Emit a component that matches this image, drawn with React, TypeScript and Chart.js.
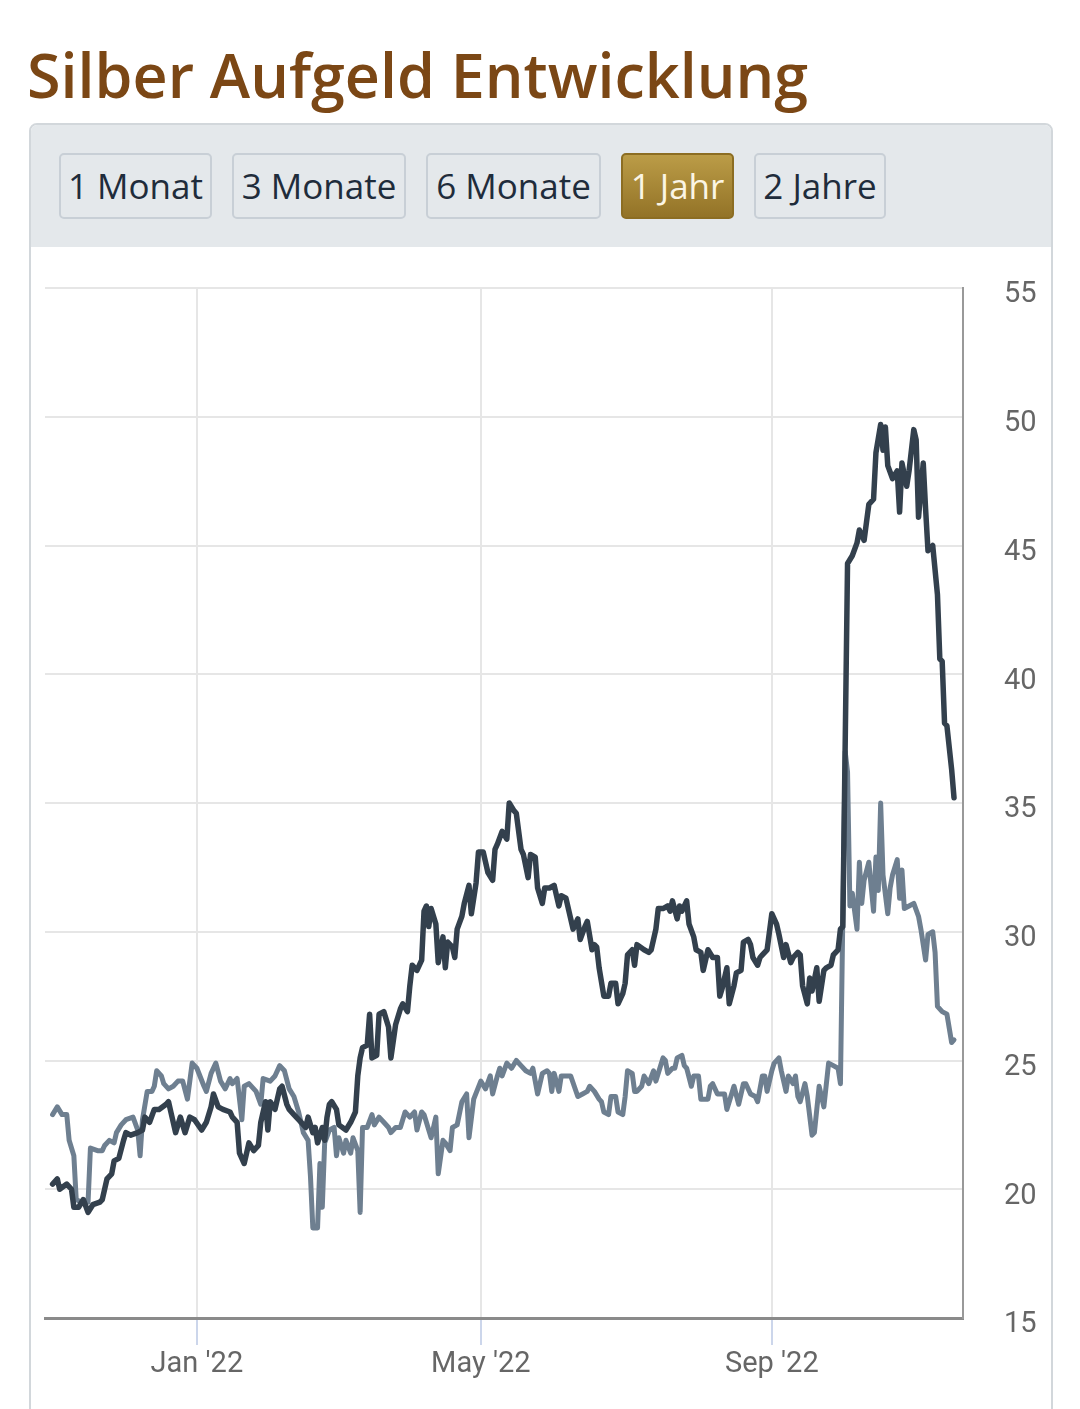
import { useEffect, useRef } from "react";
import { Chart, registerables } from "chart.js";
Chart.register(...registerables);

// x values are days counted from 1 Jan 2022
const monthTicks = [0, 120, 243];
const monthLabels = ["Jan '22", "May '22", "Sep '22"];
const yTicks = [15, 20, 25, 30, 35, 40, 45, 50, 55];
const ranges = ["1 Monat", "3 Monate", "6 Monate", "1 Jahr", "2 Jahre"];
const activeRange = "1 Jahr";
const buttonWidths = [153, 174, 175, 113, 132];

const darkDays = [
  -61, -59, -58, -55, -53, -52, -50, -48, -46, -44,
  -41, -40, -38, -36, -35, -33, -31, -30, -28, -25,
  -23, -22, -20, -18, -16, -13, -12, -11, -9, -7,
  -5, -3, -1, 2, 4, 6, 7, 9, 11, 14,
  15, 17, 18, 20, 22, 24, 26, 27, 29, 30,
  31, 33, 35, 36, 38, 39, 41, 43, 46, 47,
  49, 50, 51, 53, 54, 55, 56, 57, 59, 60,
  63, 65, 67, 68, 69, 70, 72, 73, 74, 76,
  77, 79, 81, 82, 84, 86, 87, 89, 90, 91,
  93, 95, 96, 97, 98, 99, 101, 102, 104, 105,
  106, 108, 109, 110, 112, 113, 115, 116, 118, 119,
  121, 122, 123, 125, 126, 127, 129, 131, 132, 134,
  135, 137, 138, 140, 141, 143, 144, 146, 147, 149,
  151, 153, 154, 156, 158, 159, 161, 162, 164, 165,
  167, 168, 169, 170, 172, 174, 175, 177, 178, 180,
  181, 182, 184, 185, 186, 189, 191, 192, 194, 195,
  197, 199, 200, 201, 203, 204, 205, 207, 208, 210,
  211, 213, 214, 216, 218, 220, 221, 222, 224, 225,
  227, 228, 230, 231, 233, 234, 235, 237, 238, 239,
  241, 243, 245, 246, 248, 249, 251, 252, 254, 255,
  256, 258, 259, 260, 262, 263, 265, 266, 268, 269,
  271, 272, 273, 275, 277, 279, 280, 282, 283, 284,
  286, 287, 289, 290, 291, 292, 294, 296, 297, 298,
  300, 301, 303, 304, 305, 307, 308, 309, 311, 313,
  314, 315, 316, 317, 319, 320,
];
const darkValues = [
  20.2, 20.4, 20.0, 20.2, 20.0, 19.3, 19.3, 19.6, 19.1, 19.4,
  19.5, 19.6, 20.4, 20.6, 21.1, 21.2, 21.9, 22.2, 22.1, 22.2,
  22.3, 22.8, 22.6, 23.1, 23.1, 23.3, 23.4, 23.0, 22.2, 22.8,
  22.2, 22.8, 22.7, 22.3, 22.6, 23.2, 23.7, 23.2, 23.1, 23.0,
  22.8, 22.6, 21.4, 21.0, 21.8, 21.5, 21.7, 22.6, 23.4, 22.3,
  23.4, 23.1, 23.9, 24.0, 23.3, 23.1, 22.9, 22.7, 22.4, 22.8,
  22.2, 22.4, 21.8, 22.4, 21.9, 22.8, 23.3, 23.4, 23.1, 22.5,
  22.3, 22.6, 23.0, 24.4, 25.1, 25.5, 25.6, 26.8, 25.1, 25.2,
  26.8, 26.9, 26.3, 25.1, 26.4, 27.0, 27.2, 26.9, 27.9, 28.7,
  28.5, 28.9, 30.8, 31.0, 30.2, 30.9, 30.3, 28.8, 29.8, 28.6,
  29.6, 29.4, 29.0, 30.1, 30.6, 31.1, 31.8, 30.7, 31.9, 33.1,
  33.1, 32.7, 32.3, 32.0, 33.2, 33.4, 33.9, 33.6, 35.0, 34.7,
  34.6, 33.2, 33.0, 32.1, 33.0, 32.9, 31.7, 31.1, 31.7, 31.7,
  31.8, 31.0, 31.4, 31.3, 30.5, 30.1, 30.5, 29.7, 30.2, 30.4,
  29.3, 29.5, 29.4, 28.6, 27.5, 27.5, 28.0, 28.0, 27.2, 27.6,
  28.0, 29.1, 29.3, 28.7, 29.5, 29.3, 29.2, 29.3, 30.1, 30.9,
  30.9, 31.0, 30.8, 31.2, 30.5, 31.0, 30.8, 31.2, 30.3, 29.8,
  29.3, 29.2, 28.5, 29.3, 29.0, 29.0, 27.5, 27.8, 28.6, 27.2,
  27.9, 28.4, 28.5, 29.6, 29.7, 29.5, 29.0, 28.7, 29.0, 29.1,
  29.3, 30.7, 30.3, 29.9, 29.0, 29.5, 28.8, 29.0, 29.2, 29.1,
  27.9, 27.2, 28.2, 27.7, 28.6, 27.3, 28.5, 28.6, 28.7, 29.1,
  29.3, 30.1, 30.2, 44.3, 44.6, 45.1, 45.6, 45.2, 45.9, 46.6,
  46.8, 48.6, 49.7, 48.7, 49.6, 48.1, 47.6, 47.9, 46.3, 48.2,
  47.3, 47.9, 49.5, 49.1, 46.1, 48.2, 46.4, 44.8, 45.0, 43.1,
  40.6, 40.5, 38.1, 38.0, 36.3, 35.2,
];

const grayDays = [
  -61, -59, -57, -55, -54, -52, -51, -49, -47, -46,
  -45, -42, -40, -39, -37, -35, -34, -32, -30, -27,
  -25, -24, -23, -21, -19, -18, -17, -15, -14, -12,
  -10, -8, -6, -4, -2, 0, 3, 4, 6, 8,
  10, 12, 14, 15, 17, 19, 20, 22, 25, 27,
  28, 31, 33, 35, 37, 39, 41, 43, 45, 47,
  48, 49, 51, 52, 53, 54, 56, 58, 59, 60,
  62, 63, 65, 66, 68, 69, 70, 72, 74, 75,
  77, 79, 81, 82, 84, 86, 88, 90, 92, 93,
  95, 96, 98, 99, 101, 102, 104, 105, 107, 108,
  110, 112, 114, 115, 117, 120, 122, 124, 125, 127,
  128, 129, 131, 133, 135, 137, 139, 141, 142, 144,
  146, 148, 149, 150, 151, 153, 154, 156, 158, 161,
  163, 165, 166, 168, 170, 171, 172, 174, 175, 177,
  178, 180, 181, 182, 184, 185, 186, 188, 189, 191,
  193, 194, 197, 198, 199, 201, 202, 203, 205, 206,
  207, 209, 210, 212, 213, 216, 217, 218, 220, 221,
  223, 224, 227, 229, 231, 232, 234, 236, 237, 239,
  240, 241, 243, 244, 246, 247, 249, 250, 252, 253,
  254, 255, 257, 258, 260, 261, 263, 265, 267, 269,
  271, 272, 274, 275, 276, 277, 279, 280, 281, 282,
  284, 286, 287, 288, 289, 290, 292, 293, 294, 296,
  297, 298, 299, 301, 303, 305, 306, 308, 309, 311,
  312, 313, 315, 317, 319, 320,
];
const grayValues = [
  22.9, 23.2, 22.9, 22.9, 21.9, 21.3, 19.6, 19.5, 19.5, 19.5,
  21.6, 21.5, 21.5, 21.7, 21.9, 21.8, 22.2, 22.5, 22.7, 22.8,
  22.3, 21.3, 22.7, 23.8, 23.8, 24.0, 24.6, 24.4, 24.1, 23.9,
  24.0, 24.2, 24.2, 23.5, 24.9, 24.7, 24.0, 23.8, 24.5, 24.9,
  24.2, 23.9, 24.3, 24.1, 24.3, 22.7, 24.0, 24.1, 23.8, 23.3,
  24.3, 24.2, 24.4, 24.8, 24.6, 23.9, 23.6, 23.0, 22.2, 21.9,
  20.5, 18.5, 18.5, 21.0, 19.3, 21.8, 22.3, 22.4, 21.3, 22.0,
  21.4, 21.9, 21.4, 22.0, 21.5, 19.1, 22.4, 22.4, 22.9, 22.5,
  22.8, 22.6, 22.4, 22.2, 22.4, 22.4, 23.0, 22.8, 23.0, 22.3,
  23.0, 22.9, 22.3, 22.0, 22.8, 20.6, 21.9, 21.8, 21.5, 22.4,
  22.5, 23.4, 23.7, 22.0, 23.5, 24.2, 23.9, 24.4, 23.7, 24.4,
  24.7, 24.4, 24.9, 24.7, 25.0, 24.8, 24.6, 24.5, 24.7, 23.7,
  24.5, 24.6, 24.5, 23.8, 24.5, 23.8, 24.4, 24.4, 24.4, 23.6,
  23.7, 23.8, 24.0, 23.8, 23.5, 23.4, 23.0, 22.9, 23.6, 23.6,
  23.0, 22.9, 23.6, 24.6, 24.5, 23.8, 23.8, 24.0, 24.4, 24.1,
  24.6, 24.2, 25.1, 25.0, 24.5, 24.7, 24.7, 25.1, 25.2, 24.8,
  24.7, 24.0, 24.4, 24.4, 23.5, 23.5, 24.0, 24.1, 23.7, 23.7,
  23.7, 23.1, 24.0, 23.3, 24.1, 24.1, 23.7, 23.6, 23.4, 24.4,
  24.4, 23.8, 24.6, 24.9, 25.1, 24.6, 23.8, 24.4, 24.1, 24.4,
  23.6, 23.4, 24.1, 23.6, 22.1, 22.2, 24.0, 23.2, 24.9, 24.8,
  24.7, 24.1, 37.0, 36.2, 31.0, 31.5, 30.1, 32.7, 31.1, 32.0,
  32.7, 30.8, 32.9, 31.6, 35.0, 32.2, 30.7, 31.7, 32.2, 32.8,
  31.3, 32.4, 30.9, 31.0, 31.1, 30.6, 30.1, 28.9, 29.9, 30.0,
  29.2, 27.1, 26.9, 26.8, 25.7, 25.8,
];

const toPoints = (days: number[], values: number[]) =>
  days.map((d, i) => ({ x: d, y: values[i] }));

function AufgeldChart() {
  const ref = useRef<HTMLCanvasElement>(null);

  useEffect(() => {
    if (!ref.current) return;
    const axisFont = { family: "Roboto, sans-serif", size: 29 };

    const chart = new Chart(ref.current, {
      type: "line",
      data: {
        datasets: [
          {
            label: "Aufgeld A",
            data: toPoints(darkDays, darkValues),
            borderColor: "#33404d",
            borderWidth: 5.5,
            pointRadius: 0,
            tension: 0,
            borderJoinStyle: "round",
            borderCapStyle: "round",
          },
          {
            label: "Aufgeld B",
            data: toPoints(grayDays, grayValues),
            borderColor: "#6e7f90",
            borderWidth: 5,
            pointRadius: 0,
            tension: 0,
            borderJoinStyle: "round",
            borderCapStyle: "round",
          },
        ],
      },
      options: {
        responsive: true,
        maintainAspectRatio: false,
        animation: false,
        layout: { padding: { left: 15, top: 41, right: 0, bottom: 0 } },
        plugins: { legend: { display: false }, tooltip: { enabled: false } },
        scales: {
          x: {
            type: "linear",
            min: -64.2,
            max: 323.8,
            afterBuildTicks: (s) => { s.ticks = monthTicks.map(v => ({ value: v })); },
            afterFit: (s) => { s.height = 91; },
            ticks: {
              callback: (v) => monthLabels[monthTicks.indexOf(Number(v))] ?? "",
              font: axisFont,
              color: "#666666",
              padding: 2,
              maxRotation: 0,
              autoSkip: false,
            },
            grid: { color: "#e6e6e6", lineWidth: 2, tickLength: 27, tickColor: "#ccd6eb", tickWidth: 2 },
            border: { color: "#8a8a8a", width: 3 },
          },
          y: {
            position: "right",
            min: 15,
            max: 55,
            afterBuildTicks: (s) => { s.ticks = yTicks.map(v => ({ value: v })); },
            afterFit: (s) => { s.width = 88; },
            ticks: { font: axisFont, color: "#666666", padding: 0, labelOffset: 7 },
            grid: {
              color: (c) => (c.tick && c.tick.value === 15 ? "rgba(0,0,0,0)" : "#e6e6e6"),
              lineWidth: 2,
              drawTicks: true,
              tickLength: 41,
              tickColor: "rgba(0,0,0,0)",
            },
            border: { color: "#999999", width: 2 },
          },
        },
      },
    });

    return () => chart.destroy();
  }, []);

  return (
    <div style={{ position: "absolute", left: 30, top: 247, width: 1021, height: 1162 }}>
      <canvas ref={ref} />
    </div>
  );
}

export default function App() {
  return (
    <div style={{ position: "fixed", left: 0, top: 0, width: 1080, height: 1409, overflow: "hidden", background: "#fff", fontFamily: "'Open Sans', sans-serif" }}>
      <h1 style={{ position: "absolute", left: 27, top: 44, margin: 0, fontSize: 61, lineHeight: "61px", fontWeight: 600, color: "#7b4715", whiteSpace: "nowrap" }}>
        Silber Aufgeld Entwicklung
      </h1>
      <div style={{ position: "absolute", left: 29, top: 123, width: 1024, height: 1320, border: "2px solid #d2d7db", borderRadius: 8, boxSizing: "border-box", overflow: "hidden" }}>
        <div style={{ height: 122, background: "#e4e8eb" }} />
      </div>
      <div style={{ position: "absolute", left: 59, top: 153, display: "flex", gap: 20 }}>
        {ranges.map((r, i) => {
          const on = r === activeRange;
          return (
            <div
              key={r}
              style={{
                width: buttonWidths[i],
                height: 66,
                boxSizing: "border-box",
                border: on ? "2px solid #8c6d22" : "2px solid #c8cfd6",
                borderRadius: 5,
                background: on ? "linear-gradient(#bb9c47, #937327)" : "#e4e8eb",
                color: on ? "#fbf5e4" : "#1f2c3b",
                fontSize: 35,
                lineHeight: "62px",
                textAlign: "center",
                whiteSpace: "nowrap",
              }}
            >
              {r}
            </div>
          );
        })}
      </div>
      <AufgeldChart />
    </div>
  );
}
